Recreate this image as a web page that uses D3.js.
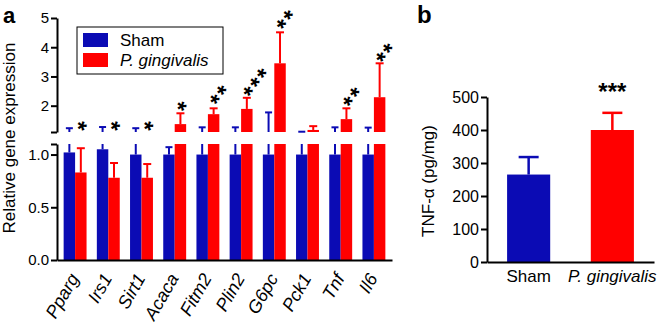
<!DOCTYPE html>
<html>
<head>
<meta charset="utf-8">
<script src="https://cdn.jsdelivr.net/npm/d3@7"></script>
<style>
  body { margin: 0; background: #fff; }
  svg { display: block; font-family: "Liberation Sans", Arial, sans-serif; }
</style>
</head>
<body>
<script>
// panel a: relative gene expression
var genes = ['Pparg', 'Irs1', 'Sirt1', 'Acaca', 'Fitm2', 'Plin2', 'G6pc', 'Pck1', 'Tnf', 'Il6']
var shamMean = [1.02, 1.05, 1.0, 1.0, 1.0, 1.0, 1.0, 1.0, 1.0, 1.0]
var shamErr = [1.23, 1.27, 1.23, 1.07, 1.26, 1.26, 1.77, 1.11, 1.26, 1.25]
var pgMean = [0.83, 0.78, 0.78, 1.37, 1.71, 1.89, 3.45, 1.17, 1.54, 2.29]
var pgErr = [1.06, 0.92, 0.91, 1.74, 1.91, 2.27, 4.51, 1.30, 1.91, 3.45]
var stars = ['*', '*', '*', '*', '**', '***', '**', '', '**', '**']
var starLevel = [1.34, 1.34, 1.34, 2.02, 2.26, 2.53, 4.83, null, 2.19, 3.70]
var lowTicks = [0, 0.5, 1.0]
var upTicks = [2, 3, 4, 5]
var breakAt = 1.1

// panel b: TNF-alpha
var groups = ['Sham', 'P. gingivalis']
var tnfMean = [265, 400]
var tnfErr = [318, 452]
var tnfTicks = [0, 100, 200, 300, 400, 500]

var blue = '#0b0bb4', red = '#ff0000'

var svg = d3.select('body').append('svg')
  .attr('width', 665)
  .attr('height', 323)

// ---------- panel a ----------
var x = d3.scaleBand().domain(genes).range([57, 392]).paddingInner(0.31).paddingOuter(0.2)
var bw = x.bandwidth() / 2
var yLow = d3.scaleLinear().domain([0, breakAt]).range([260, 144])
var yUp = d3.scaleLinear().domain([breakAt, 5]).range([132, 18])

var series = [
  { mean: shamMean, err: shamErr, color: blue, off: 0, cap: 7 },
  { mean: pgMean, err: pgErr, color: red, off: bw, cap: 8 }
]

// draws the part of each bar / error bar that falls inside one axis segment
function drawSegment(y) {
  var lo = y.domain()[0], hi = y.domain()[1]
  var clamp = v => Math.max(lo, Math.min(hi, v))
  var g = svg.append('g')
  series.forEach(s => {
    genes.forEach((gname, i) => {
      var m = s.mean[i], e = s.err[i]
      var x0 = x(gname) + s.off
      if (m > lo) {
        g.append('rect')
          .attr('x', x0)
          .attr('width', bw)
          .attr('y', y(clamp(m)))
          .attr('height', y(lo) - y(clamp(m)))
          .attr('fill', s.color)
      }
      if (clamp(e) > clamp(m)) {
        var cx = x0 + bw / 2
        g.append('line')
          .attr('x1', cx).attr('x2', cx)
          .attr('y1', y(clamp(m))).attr('y2', y(clamp(e)))
          .attr('stroke', s.color).attr('stroke-width', 2)
        if (e <= hi) {
          g.append('line')
            .attr('x1', cx - s.cap / 2).attr('x2', cx + s.cap / 2)
            .attr('y1', y(e)).attr('y2', y(e))
            .attr('stroke', s.color).attr('stroke-width', 2)
        }
      }
    })
  })
}
drawSegment(yLow)
drawSegment(yUp)

function styleAxis(g) {
  g.selectAll('path, line').attr('stroke', '#000').attr('stroke-width', 2)
  g.selectAll('text').attr('fill', '#000')
}

svg.append('g')
  .attr('transform', 'translate(57,0)')
  .call(d3.axisLeft(yLow).tickValues(lowTicks.concat([breakAt]))
    .tickFormat(d => d === breakAt ? '' : d3.format('.1f')(d))
    .tickSize(6).tickPadding(2).tickSizeOuter(0))
  .call(styleAxis)
  .selectAll('text').attr('font-size', 15).attr('font-family', null)

svg.append('g')
  .attr('transform', 'translate(57,0)')
  .call(d3.axisLeft(yUp).tickValues([breakAt].concat(upTicks))
    .tickFormat(d => d === breakAt ? '' : d)
    .tickSize(6).tickPadding(2).tickSizeOuter(0))
  .call(styleAxis)
  .selectAll('text').attr('font-size', 15).attr('font-family', null)

var xa = svg.append('g')
  .attr('transform', 'translate(0,260)')
  .call(d3.axisBottom(x).tickSize(0).tickSizeOuter(0))
  .call(styleAxis)
xa.selectAll('.tick text')
  .attr('font-size', 18).attr('font-family', null)
  .attr('font-style', 'italic')
  .attr('text-anchor', 'end')
  .attr('dy', '0.35em')
  .attr('y', 0)
  .attr('transform', 'translate(-1,15) rotate(-60)')

svg.append('text')
  .attr('transform', 'translate(15,138) rotate(-90)')
  .attr('text-anchor', 'middle')
  .attr('font-size', 17)
  .text('Relative gene expression')

// significance stars, one rotated string per gene, first star centred over the red bar
genes.forEach((gname, i) => {
  if (!stars[i]) return
  var cx = x(gname) + bw * 1.5
  var cy = yUp(starLevel[i])
  svg.append('text')
    .attr('transform', 'translate(' + cx + ',' + cy + ') rotate(-53)')
    .attr('x', -4.7)
    .attr('y', 13.5)
    .attr('font-size', 24)
    .attr('font-weight', 'bold')
    .attr('letter-spacing', 1.9)
    .text(stars[i])
})

// legend
var leg = svg.append('g')
leg.append('rect').attr('x', 77).attr('y', 27).attr('width', 146).attr('height', 47)
  .attr('fill', '#fff').attr('stroke', '#000').attr('stroke-width', 1)
var legItems = [{ label: 'Sham', color: blue, italic: false }, { label: 'P. gingivalis', color: red, italic: true }]
legItems.forEach((d, i) => {
  leg.append('rect').attr('x', 83).attr('y', 33 + i * 20).attr('width', 25).attr('height', 14).attr('fill', d.color)
  leg.append('text').attr('x', 120).attr('y', 46 + i * 20)
    .attr('font-size', 17)
    .attr('font-style', d.italic ? 'italic' : null)
    .text(d.label)
})

svg.append('text').attr('x', 3).attr('y', 23)
  .attr('font-size', 22).attr('font-weight', 'bold').text('a')

// ---------- panel b ----------
var xb = d3.scaleBand().domain(groups).range([487, 654]).paddingInner(0.485).paddingOuter(0.24)
var yb = d3.scaleLinear().domain([0, 500]).range([262, 97])
var bColors = [blue, red]

groups.forEach((gname, i) => {
  var cx = xb(gname) + xb.bandwidth() / 2
  svg.append('line')
    .attr('x1', cx).attr('x2', cx)
    .attr('y1', yb(tnfMean[i])).attr('y2', yb(tnfErr[i]))
    .attr('stroke', bColors[i]).attr('stroke-width', 2.5)
  svg.append('line')
    .attr('x1', cx - 10).attr('x2', cx + 10)
    .attr('y1', yb(tnfErr[i])).attr('y2', yb(tnfErr[i]))
    .attr('stroke', bColors[i]).attr('stroke-width', 2.5)
  svg.append('rect')
    .attr('x', xb(gname))
    .attr('width', xb.bandwidth())
    .attr('y', yb(tnfMean[i]))
    .attr('height', yb(0) - yb(tnfMean[i]))
    .attr('fill', bColors[i])
})

svg.append('g')
  .attr('transform', 'translate(487,0)')
  .call(d3.axisLeft(yb).tickValues(tnfTicks).tickSize(6).tickPadding(2).tickSizeOuter(0))
  .call(styleAxis)
  .selectAll('text').attr('font-size', 16).attr('font-family', null)

var xba = svg.append('g')
  .attr('transform', 'translate(0,262)')
  .call(d3.axisBottom(xb).tickSize(0).tickSizeOuter(0).tickPadding(8))
  .call(styleAxis)
xba.selectAll('.tick text')
  .attr('font-size', 17).attr('font-family', null)
  .attr('font-style', d => d === 'Sham' ? null : 'italic')

svg.append('text')
  .attr('transform', 'translate(434,181) rotate(-90)')
  .attr('text-anchor', 'middle')
  .attr('font-size', 17)
  .text('TNF-\u03b1 (pg/mg)')

svg.append('text')
  .attr('x', xb('P. gingivalis') + xb.bandwidth() / 2)
  .attr('y', 100)
  .attr('text-anchor', 'middle')
  .attr('font-size', 24)
  .attr('font-weight', 'bold')
  .text('***')

svg.append('text').attr('x', 417).attr('y', 23)
  .attr('font-size', 24).attr('font-weight', 'bold').text('b')
</script>
</body>
</html>
